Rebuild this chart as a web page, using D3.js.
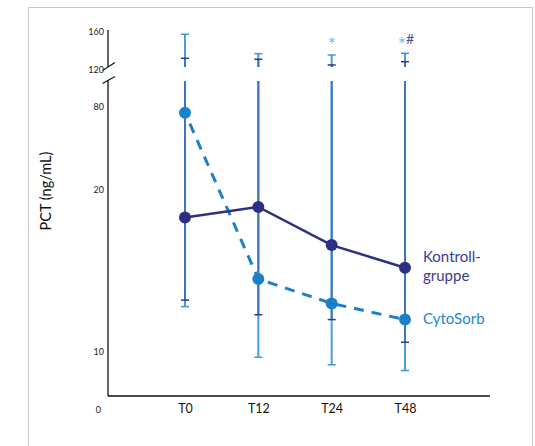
<!DOCTYPE html>
<html>
<head>
<meta charset="utf-8">
<script src="https://cdnjs.cloudflare.com/ajax/libs/d3/7.8.5/d3.min.js"></script>
<style>
  body { margin: 0; background: #fff; }
  text { font-family: Lato, "Open Sans", sans-serif; }
</style>
</head>
<body>
<div id="chart"></div>
<script>
// data
var categories = ["T0", "T12", "T24", "T48"];
var kontroll = [18.3, 18.95, 16.6, 15.2];
var cytosorb = [75.9, 14.5, 13.0, 12.0];
var kontrollLow = [13.2, 12.3, 12.0, 10.6];
var kontrollHigh = [132.3, 131.3, 125.3, 128.7];
var cytoLow = [12.8, 9.1, 7.8, 6.8];
var cytoHigh = [157.6, 137.2, 135.8, 137.6];
var yTicks = [0, 10, 20, 80, 120, 160];
var marks = ["", "", "*", "*"];
var marks2 = ["", "", "", "#"];

var svgWidth = 535;
var svgHeight = 446;

var navy = "#2e2e85";
var blue = "#1b80c9";

var svg = d3.select("#chart")
  .append("svg")
  .attr("width", svgWidth)
  .attr("height", svgHeight);

// frame
svg.append("rect")
  .attr("x", 28.5).attr("y", 7.5)
  .attr("width", 504).attr("height", 450)
  .attr("fill", "none")
  .attr("stroke", "#c9c9c9");

// broken y scale, piecewise
var y = d3.scaleLinear()
  .domain(yTicks)
  .range([410, 352, 190, 107, 70, 32]);

var x = d3.scalePoint()
  .domain(categories)
  .range([185, 405]);

var axisX0 = 108, axisX1 = 490, axisY = 396;

// error bars
var bars = svg.append("g");
categories.forEach(function(c, i) {
  var cx = x(c);
  bars.append("line")
    .attr("x1", cx).attr("x2", cx)
    .attr("y1", y(cytoLow[i])).attr("y2", y(cytoHigh[i]))
    .attr("stroke", "#4a9ddb").attr("stroke-width", 2);
  bars.append("line")
    .attr("x1", cx).attr("x2", cx)
    .attr("y1", y(kontrollLow[i])).attr("y2", y(kontrollHigh[i]))
    .attr("stroke", "#3a75bd").attr("stroke-width", 2);
  [cytoLow[i], cytoHigh[i]].forEach(function(v) {
    bars.append("line")
      .attr("x1", cx - 4).attr("x2", cx + 4)
      .attr("y1", y(v)).attr("y2", y(v))
      .attr("stroke", "#3f97da").attr("stroke-width", 1.5);
  });
  [kontrollLow[i], kontrollHigh[i]].forEach(function(v) {
    bars.append("line")
      .attr("x1", cx - 4).attr("x2", cx + 4)
      .attr("y1", y(v)).attr("y2", y(v))
      .attr("stroke", "#35358c").attr("stroke-width", 1.5);
  });
});

// gap of the axis break
svg.append("rect")
  .attr("x", 120).attr("y", 67)
  .attr("width", 370).attr("height", 14)
  .attr("fill", "#fff");

// axes
svg.append("line")
  .attr("x1", axisX0).attr("x2", axisX0)
  .attr("y1", 30).attr("y2", 67)
  .attr("stroke", "#111").attr("stroke-width", 1.3);
svg.append("line")
  .attr("x1", axisX0).attr("x2", axisX0)
  .attr("y1", 80).attr("y2", axisY)
  .attr("stroke", "#111").attr("stroke-width", 1.3);
svg.append("line")
  .attr("x1", axisX0).attr("x2", axisX1)
  .attr("y1", axisY).attr("y2", axisY)
  .attr("stroke", "#111").attr("stroke-width", 1.3);
svg.append("line")
  .attr("x1", 102.5).attr("y1", 70.5).attr("x2", 115).attr("y2", 62.5)
  .attr("stroke", "#111").attr("stroke-width", 1.1);
svg.append("line")
  .attr("x1", 102.5).attr("y1", 83.5).attr("x2", 115).attr("y2", 76.5)
  .attr("stroke", "#111").attr("stroke-width", 1.1);

var yAxis = svg.append("g")
  .attr("transform", "translate(" + 104 + ",0)")
  .call(d3.axisLeft(y).tickValues(yTicks).tickSize(0).tickPadding(0));
yAxis.select(".domain").remove();
yAxis.selectAll("text")
  .style("font-family", "Lato, sans-serif")
  .style("font-size", "9px")
  .attr("fill", "#222");
yAxis.selectAll(".tick").filter(function(d) { return d === 0; })
  .select("text").attr("x", -3);

var xAxis = svg.append("g")
  .attr("transform", "translate(0," + axisY + ")")
  .call(d3.axisBottom(x).tickSize(0).tickPadding(8));
xAxis.select(".domain").remove();
xAxis.selectAll("text")
  .style("font-family", "Lato, sans-serif")
  .style("font-size", "12.5px")
  .style("font-weight", "normal")
  .attr("fill", "#111");

// axis title
svg.append("text")
  .attr("transform", "translate(51,191) rotate(-90)")
  .attr("text-anchor", "middle")
  .style("font-size", "14.5px")
  .attr("fill", "#111")
  .text("PCT (ng/mL)");

// lines
var line = d3.line()
  .x(function(d, i) { return x(categories[i]); })
  .y(function(d) { return y(d); });

svg.append("path")
  .datum(cytosorb)
  .attr("d", line)
  .attr("fill", "none")
  .attr("stroke", blue)
  .attr("stroke-width", 3)
  .attr("stroke-dasharray", "10,8")
  .attr("stroke-dashoffset", -12);

svg.append("path")
  .datum(kontroll)
  .attr("d", line)
  .attr("fill", "none")
  .attr("stroke", navy)
  .attr("stroke-width", 2.5);

svg.selectAll(".dotC")
  .data(cytosorb)
  .enter()
  .append("circle")
  .attr("cx", function(d, i) { return x(categories[i]); })
  .attr("cy", function(d) { return y(d); })
  .attr("r", 6)
  .attr("fill", blue);

svg.selectAll(".dotK")
  .data(kontroll)
  .enter()
  .append("circle")
  .attr("cx", function(d, i) { return x(categories[i]); })
  .attr("cy", function(d) { return y(d); })
  .attr("r", 6)
  .attr("fill", navy);

// significance marks
categories.forEach(function(c, i) {
  if (marks[i]) {
    svg.append("text")
      .attr("x", x(c) - (marks2[i] ? 3 : 0))
      .attr("y", 47)
      .attr("text-anchor", "middle")
      .style("font-family", "DejaVu Sans, sans-serif")
      .style("font-size", "14px")
      .attr("fill", "#69b3e4")
      .text(marks[i]);
  }
  if (marks2[i]) {
    svg.append("text")
      .attr("x", x(c) + 5)
      .attr("y", 44)
      .attr("text-anchor", "middle")
      .style("font-size", "14px")
      .attr("fill", "#4a4a98")
      .text(marks2[i]);
  }
});

// legend labels
var legend = svg.append("g")
  .style("font-size", "15px");
legend.append("text")
  .attr("x", 423).attr("y", 262)
  .attr("fill", "#3b3b8e")
  .text("Kontroll-");
legend.append("text")
  .attr("x", 423).attr("y", 281)
  .attr("fill", "#3b3b8e")
  .text("gruppe");
legend.append("text")
  .attr("x", 423).attr("y", 324)
  .attr("fill", "#1f86cf")
  .text("CytoSorb");
</script>
</body>
</html>
